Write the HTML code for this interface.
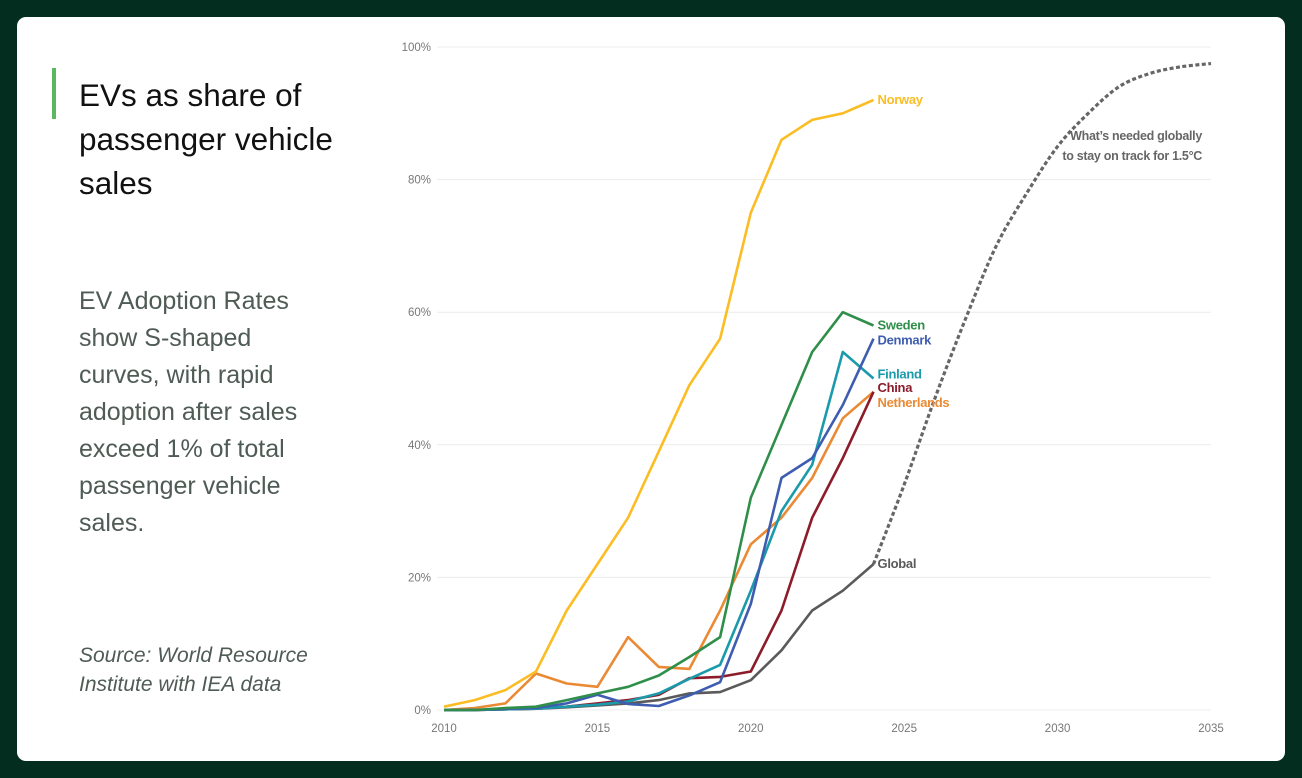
<!DOCTYPE html>
<html><head><meta charset="utf-8"><style>
html,body{margin:0;padding:0;width:1302px;height:778px;background:#032e1f;overflow:hidden;font-family:"Liberation Sans",sans-serif}
#card{position:absolute;left:17px;top:17px;width:1268px;height:744px;background:#fff;border-radius:9px}
#bar{position:absolute;left:52px;top:68px;width:4px;height:51px;background:#5cb860}
#title{position:absolute;left:79px;top:73px;font-size:31.5px;line-height:44px;color:#111;width:290px}
#desc{position:absolute;left:79px;top:283px;font-size:25px;line-height:37px;color:#4f5b55;width:245px}
#src{position:absolute;left:79px;top:641px;font-size:21px;line-height:29px;color:#4f5b55;font-style:italic;width:270px}
svg{position:absolute;left:0;top:0}
</style></head><body>
<div id="card"></div>
<div id="bar"></div>
<div id="title">EVs as share of passenger vehicle sales</div>
<div id="desc">EV Adoption Rates show S-shaped curves, with rapid adoption after sales exceed 1% of total passenger vehicle sales.</div>
<div id="src">Source: World Resource Institute with IEA data</div>
<svg id="chart" width="1302" height="778"></svg>
<script>
const years = [2010,2011,2012,2013,2014,2015,2016,2017,2018,2019,2020,2021,2022,2023,2024];
const norway = [0.5,1.5,3,5.8,15,22,29,39,49,56,75,86,89,90,92];
const netherlands = [0,0.3,1,5.5,4,3.5,11,6.5,6.2,15,25,29,35,44,48];
const sweden = [0,0,0.3,0.5,1.5,2.5,3.5,5.2,8,11,32,43,54,60,58];
const denmark = [0,0,0.2,0.3,1,2.3,0.9,0.6,2.2,4.2,16,35,38,46,56];
const finland = [0,0,0.1,0.2,0.5,0.8,1.3,2.5,4.7,6.8,18,30,37,54,50];
const china = [0,0,0.1,0.2,0.5,1,1.5,2.3,4.8,5,5.8,15,29,38,48];
const globalShare = [0,0,0.1,0.2,0.4,0.7,1,1.5,2.5,2.7,4.5,9,15,18,22];
const neededYears = [2024,2025,2026,2027,2028,2029,2030,2031,2032,2033,2034,2035];
const needed = [22,34,47,59,70,78,85,90,94,96,97,97.5];
const yTicks = [0,20,40,60,80,100];
const xTicks = [2010,2015,2020,2025,2030,2035];

const NS='http://www.w3.org/2000/svg';
const svg=document.getElementById('chart');
const X=y=>444+(y-2010)*(1211-444)/25;
const Y=v=>710-v*(710-47)/100;
const NF='"Liberation Sans Narrow","Liberation Sans",sans-serif';
function mk(t,a){const e=document.createElementNS(NS,t);for(const k in a)e.setAttribute(k,a[k]);svg.appendChild(e);return e;}
yTicks.forEach(v=>{
  const g=mk('line',{x1:437,x2:1211,y1:Y(v),y2:Y(v),stroke:'#ececec','stroke-width':1});
  
  
  const t=mk('text',{x:431,y:Y(v)+4,'text-anchor':'end','font-size':11.5,fill:'#777','font-family':NF});
  t.textContent=v+'%';
  
  
});
xTicks.forEach(y=>{
  const t=mk('text',{x:X(y),y:732,'text-anchor':'middle','font-size':11.5,fill:'#777','font-family':NF});
  t.textContent=y;
  
  
});
function line(xs,vals,color,name,dash){
  let d;
  const P=vals.map((v,i)=>[X(xs[i]),Y(v)]);
  if(dash){
    d='M'+P[0][0]+','+P[0][1];
    for(let i=0;i<P.length-1;i++){
      const p0=P[Math.max(0,i-1)],p1=P[i],p2=P[i+1],p3=P[Math.min(P.length-1,i+2)];
      const c1=[p1[0]+(p2[0]-p0[0])/6,p1[1]+(p2[1]-p0[1])/6];
      const c2=[p2[0]-(p3[0]-p1[0])/6,p2[1]-(p3[1]-p1[1])/6];
      d+='C'+c1.join(',')+' '+c2.join(',')+' '+p2.join(',');
    }
  } else d=P.map((p,i)=>(i?'L':'M')+p[0].toFixed(1)+','+p[1].toFixed(1)).join('');
  const a={d:d,fill:'none',stroke:color,'stroke-width':dash?3.2:2.6,'stroke-linejoin':'round'};
  if(dash)a['stroke-dasharray']='4,2.5';
  const p=mk('path',a);
  
  
}
line(neededYears,needed,'#666','needed-1-5c-line',true);
line(years,globalShare,'#5a5a5a','global-line');
line(years,netherlands,'#ea8a35','netherlands-line');
line(years,china,'#8c1c2a','china-line');
line(years,finland,'#1a9aab','finland-line');
line(years,denmark,'#3f5db0','denmark-line');
line(years,sweden,'#2f8f4a','sweden-line');
line(years,norway,'#fbbd23','norway-line');
const labels=[['Norway','#fbbd23',norway,0],['Sweden','#2f8f4a',sweden,0],['Denmark','#3f5db0',denmark,2],['Finland','#1a9aab',finland,-4],['China','#8c1c2a',china,-4],['Netherlands','#ea8a35',netherlands,11]];
labels.push(['Global','#5a5a5a',globalShare,0]);
labels.forEach(l=>{
  const t=mk('text',{x:X(2024)+4,y:Y(l[2][14])+4+l[3],'font-size':13,'font-weight':'bold',fill:l[1],'font-family':NF,'letter-spacing':'-0.3'});
  t.textContent=l[0];
  
  
});
[['What\u2019s needed globally',140],['to stay on track for 1.5\u00b0C',160]].forEach(s=>{
  const t=mk('text',{x:1202,y:s[1],'text-anchor':'end','font-size':12.5,'font-weight':'bold',fill:'#666','font-family':NF,'letter-spacing':'-0.3'});
  t.textContent=s[0];
  
  
});
</script>
</body></html>
